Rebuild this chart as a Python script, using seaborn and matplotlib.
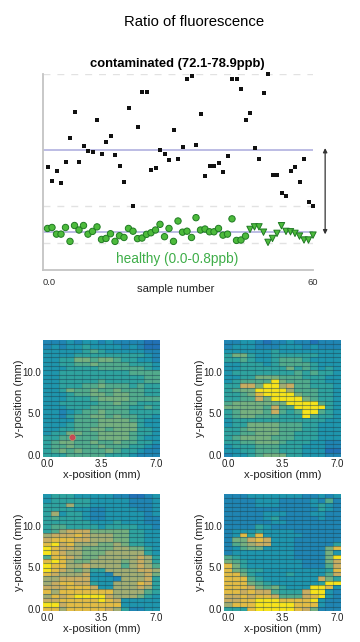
import numpy as np
import pandas as pd
import seaborn as sns
import matplotlib.pyplot as plt
from matplotlib.colors import LinearSegmentedColormap

W, H = 360, 642

# ratio per sample
sample_no = list(range(1, 61))
contaminated = [52.7, 45.5, 50.6, 44.5, 55.2, 67.1, 80.4, 55.1, 63.4, 60.8,
                60.3, 76.7, 59.3, 65.3, 68.5, 58.6, 52.9, 44.7, 82.6, 32.8,
                73.1, 90.8, 90.8, 50.8, 52.2, 61.0, 59.3, 56.1, 71.4, 56.4,
                62.7, 97.6, 98.9, 63.7, 79.5, 48.1, 53.2, 53.2, 54.5, 49.8,
                58.1, 97.7, 97.7, 92.5, 76.7, 80.2, 62.0, 56.8, 90.1, 100.0,
                48.6, 48.6, 39.4, 38.0, 50.3, 52.3, 44.9, 56.8, 34.8, 32.6]
healthy = [21.2, 21.7, 18.3, 18.3, 21.7, 14.6, 22.7, 20.4, 22.7, 18.3,
           19.7, 22.0, 15.6, 16.1, 18.5, 14.6, 17.5, 16.6, 21.2, 19.8,
           16.0, 16.3, 18.2, 19.0, 20.4, 23.3, 17.0, 21.2, 14.6, 25.0,
           19.3, 19.8, 16.6, 26.7, 20.4, 20.9, 19.5, 19.5, 21.2, 17.8,
           18.3, 26.1, 15.1, 15.3, 17.3, 20.7, 22.0, 22.0, 19.3, 14.1,
           16.1, 18.7, 22.6, 19.7, 19.5, 18.7, 17.3, 15.3, 15.3, 17.8]
marker_group = ['o'] * 45 + ['v'] * 15
mean_contaminated = 61.2
mean_healthy = 19.2
dashed_levels = [100, 32.6, 14]

# maps: one digit per cell (0 blue ... 9 yellow), rows top to bottom
map_a = ["111212212111100", "121223222212100", "222223432222211",
         "222233333333321", "223355455433221", "223344544443332",
         "222333344444432", "223333333334444", "223333333333344",
         "223333343333344", "223334454443433", "223544544544433",
         "222344554554433", "222333455554444", "223333344544333",
         "222333444443343", "221234454443333", "221344554544332",
         "222244455554322", "222344455555322", "223344554555332",
         "233554455554332", "334444455554322", "345544544544332",
         "344544454443321", "345454445433211", "333444443332111"]
map_b = ["112210112110111", "122211122212111", "222222322222222",
         "355322333333222", "334322344432222", "223332344443222",
         "223333335343232", "233333333434332", "223355544433322",
         "234444954443322", "337759967443332", "345599996444332",
         "334589999544332", "334475999954332", "455555559999432",
         "555554744999932", "345554743499432", "345544433394332",
         "233333333333322", "233555544433222", "334555544433222",
         "334455544333222", "345555444333222", "334455543332211",
         "233344433322211", "223344433322200", "122345553322211"]
map_c = ["233322222110012", "233333222221112", "333633222221112",
         "333322112222112", "362332112222212", "343332112222211",
         "333333222322211", "344333323333221", "346777555553322",
         "677787666553322", "788877666553322", "897866655653322",
         "987765555665532", "987665556666632", "488765566666763",
         "898655666656763", "988667666646764", "987656336666776",
         "876667221666675", "667777222166673", "678877322666873",
         "777888722666763", "868888888666643", "687899997666532",
         "778888898722222", "997888888822222", "886888887631122"]
map_d = ["111222222211212", "111122211112141", "111122211112321",
         "111111111111321", "111112221112211", "111112311111211",
         "111111221111111", "111132111111111", "122232222111111",
         "128382222211111", "155787222111111", "145677222111113",
         "124552222111158", "122222222111152", "432222222111159",
         "543222222211157", "853222222211147", "854332222222238",
         "885322223222247", "888432222222753", "888543222222399",
         "888754532229982", "887877433379921", "778788744478921",
         "778899988889211", "688899999888211", "333899999875111"]
x_tick_labels = ['0.0', '3.5', '7.0']
y_tick_labels = ['0.0', '5.0', '10.0']
hot_spot_mm = (1.6, 2.1)

map_colours = ['#2271b5', '#2085b3', '#1f96ad', '#2fa39f', '#52ab8c',
               '#75b07f', '#a3ad72', '#c9ad62', '#e3bc45', '#f7e41c']
map_cmap = LinearSegmentedColormap.from_list('ratio', map_colours)


def px_axes(fig, left, top, right, bottom):
    """ Axes from pixel edges, measured from the top left of the picture. """
    return fig.add_axes([left / W, 1 - bottom / H, (right - left) / W, (bottom - top) / H])


def draw_map(fig, rows, left, top, hot_spot=None):
    ax = px_axes(fig, left, top, left + 117, top + 117)
    grid = pd.DataFrame([[int(c) for c in row] for row in rows])
    sns.heatmap(grid, ax=ax, cmap=map_cmap, vmin=0, vmax=9, cbar=False,
                xticklabels=False, yticklabels=False)
    # cell borders stay faint, the horizontal ones a bit stronger
    ax.hlines(range(1, grid.shape[0]), 0, grid.shape[1], color='#1d4452', lw=0.8, alpha=0.5)
    ax.vlines(range(1, grid.shape[1]), 0, grid.shape[0], color='#1d4452', lw=0.8, alpha=0.28)
    ax.set_xticks([0.5, 7.5, 14.5], labels=x_tick_labels)
    ax.set_yticks([26.5, 16.9, 7.4], labels=y_tick_labels, rotation=0)
    ax.tick_params(length=0, labelsize=7, pad=1.5, colors='#222222')
    ax.set_xlabel('x-position (mm)', fontsize=8.1, labelpad=0.5, color='#222222')
    ax.set_ylabel('y-position (mm)', fontsize=8.1, labelpad=-1, color='#222222')
    if hot_spot:
        # mm to cell coordinates, half a mm per cell
        ax.scatter(hot_spot[0] * 2 + 0.5, 26.5 - hot_spot[1] * 2, s=20, color='#e8354a',
                   alpha=0.8, edgecolor='#c9a070', linewidth=0.5, zorder=5)
    return ax


sns.set_theme(style='white')
plt.rcParams['font.family'] = ['Liberation Sans', 'DejaVu Sans']

fig = plt.figure(figsize=(W / 100, H / 100), dpi=100)
fig.text(194 / W, 1 - 22 / H, 'Ratio of fluorescence', ha='center', va='center', fontsize=10.7, color='black')

ax = px_axes(fig, 43, 74, 313, 270)
for level in dashed_levels:
    ax.axhline(level, color='#e2e2e2', lw=1.0, ls=(0, (5, 5)), zorder=0)
ax.axhline(mean_contaminated, color='#a9a9dc', lw=1.1, zorder=1)
ax.axhline(mean_healthy, color='#a9a9dc', lw=1.1, zorder=1)

df = pd.DataFrame({'n': sample_no, 'contaminated': contaminated, 'healthy': healthy, 'group': marker_group})
sns.scatterplot(data=df, x='n', y='contaminated', ax=ax, marker='s', s=12, color='#111111',
                linewidth=0, clip_on=False, zorder=3, legend=False)
sns.scatterplot(data=df, x='n', y='healthy', style='group', markers={'o': 'o', 'v': 'v'}, ax=ax, s=21,
                color='#4dbb3c', edgecolor='#1f7a22', linewidth=0.7, clip_on=False, zorder=3, legend=False)

ax.set_xlim(0, 60)
ax.set_ylim(0, 100)
ax.annotate('', xy=(62.7, mean_healthy - 1), xytext=(62.7, mean_contaminated + 1), annotation_clip=False,
            arrowprops=dict(arrowstyle='<|-|>', color='#333333', lw=0.9, shrinkA=0, shrinkB=0, mutation_scale=6))
sns.despine(ax=ax)
ax.spines['left'].set_color('#c4c4c4')
ax.spines['left'].set_linewidth(1.3)
ax.spines['bottom'].set_color('#c4c4c4')
ax.spines['bottom'].set_linewidth(1.3)
ax.set_xticks(range(0, 61, 10), labels=['0.0', '', '', '', '', '', ''])
ax.set_yticks([100, 26], labels=['', ''])
ax.tick_params(axis='both', direction='in', length=1.5, width=0.6, color='#999999', labelsize=6.8, labelcolor='#333333')
ax.tick_params(axis='x', pad=6)
ax.get_xticklabels()[0].set_horizontalalignment('left')
ax.set_xlabel('')
ax.set_ylabel('')
ax.text(60, -6.2, '60', fontsize=6.8, ha='center', va='center', color='#333333')
fig.text(177 / W, 1 - 64 / H, 'contaminated (72.1-78.9ppb)', ha='center', va='center', fontsize=9.4, color='black', fontweight='bold')
fig.text(177 / W, 1 - 259 / H, 'healthy (0.0-0.8ppb)', ha='center', va='center', fontsize=9.8, color='#3fae49')
fig.text(176 / W, 1 - 289 / H, 'sample number', ha='center', va='center', fontsize=8.1, color='#222222')

draw_map(fig, map_a, 43, 340, hot_spot=hot_spot_mm)
draw_map(fig, map_b, 224, 340)
draw_map(fig, map_c, 43, 494)
draw_map(fig, map_d, 224, 494)

fig.savefig('out.png', dpi=100)
